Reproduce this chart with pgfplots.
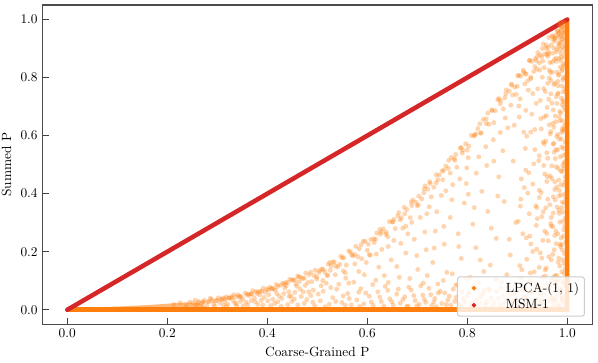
\documentclass[border=0pt]{standalone}
\usepackage{pgfplots}
\pgfplotsset{compat=1.18}
\definecolor{tabor}{RGB}{255,127,14}
\definecolor{tabred}{RGB}{214,39,40}
\begin{document}
\begin{tikzpicture}
\begin{axis}[
  name=ax,
  scale only axis, width=412.5pt, height=239.5pt,
  xmin=-0.05, xmax=1.05, ymin=-0.05, ymax=1.05,
  xtick={0,0.2,0.4,0.6,0.8,1.0}, ytick={0,0.2,0.4,0.6,0.8,1.0},
  tick align=inside, tick pos=left, major tick length=5pt,
  every tick/.style={black!75, line width=0.8pt},
  axis line style={black!70, line width=0.9pt},
  xticklabel style={/pgf/number format/.cd, fixed, fixed zerofill, precision=1},
  yticklabel style={/pgf/number format/.cd, fixed, fixed zerofill, precision=1},
  xlabel={Coarse-Grained P}, ylabel={Summed P},
  legend cell align=left,
  legend style={at={(1,0)}, anchor=south east, xshift=-5.5pt, yshift=5.7pt,
    draw=black!20, line width=0.75pt, rounded corners=2pt, fill=white,
    fill opacity=0.8, draw opacity=1, text opacity=1,
    inner xsep=2pt, inner ysep=2pt, font=\normalsize},
]
% scattered LPCA points
\addplot[only marks, color=tabor, mark=*, mark size=1.85pt, mark options={fill=tabor, draw opacity=0, fill opacity=0.33}, forget plot] coordinates {
(0.302,0.041) (0.311,0.041) (0.318,0.045) (0.327,0.0415) (0.333,0.052) (0.341,0.0515) (0.348,0.045) (0.356,0.058) (0.362,0.0546) (0.371,0.066) (0.378,0.0637) (0.385,0.052) (0.392,0.0745) (0.399,0.0708) (0.405,0.0778) (0.413,0.0732) (0.418,0.0873) (0.426,0.0849) (0.431,0.092) (0.438,0.0835) (0.445,0.1053) (0.452,0.103) (0.457,0.089) (0.463,0.1133) (0.471,0.107) (0.477,0.127) (0.484,0.121) (0.489,0.097) (0.496,0.1366) (0.503,0.129) (0.509,0.141) (0.515,0.1305) (0.522,0.157) (0.528,0.151) (0.534,0.165) (0.541,0.148) (0.547,0.185) (0.553,0.1795) (0.558,0.154) (0.566,0.1986) (0.571,0.186) (0.577,0.2187) (0.584,0.2106) (0.589,0.176) (0.596,0.236) (0.602,0.2257) (0.607,0.2425) (0.614,0.232) (0.619,0.2646) (0.626,0.2604) (0.632,0.2788) (0.637,0.2598) (0.644,0.304) (0.651,0.3025) (0.656,0.28) (0.661,0.3237) (0.668,0.3172) (0.674,0.353) (0.679,0.3454) (0.686,0.3176) (0.691,0.378) (0.697,0.3708) (0.703,0.3914) (0.709,0.382) (0.714,0.417) (0.721,0.4158) (0.726,0.435) (0.733,0.422) (0.738,0.465) (0.744,0.4646) (0.751,0.448) (0.757,0.4953) (0.762,0.487) (0.768,0.525) (0.774,0.521) (0.779,0.491) (0.786,0.557) (0.791,0.5496) (0.797,0.572) (0.803,0.5643) (0.808,0.6008) (0.815,0.6015) (0.821,0.6242) (0.826,0.6088) (0.832,0.6556) (0.838,0.6576) (0.843,0.639) (0.849,0.688) (0.856,0.686) (0.861,0.7233) (0.867,0.7208) (0.872,0.692) (0.878,0.7575) (0.884,0.7528) (0.889,0.7738) (0.895,0.767) (0.901,0.806) (0.907,0.8047) (0.912,0.8252) (0.918,0.8118) (0.924,0.858) (0.929,0.856) (0.935,0.838) (0.941,0.886) (0.946,0.878) (0.952,0.916) (0.958,0.9116) (0.963,0.8817) (0.969,0.9438) (0.975,0.937) (0.981,0.959) (0.986,0.9427)
(0.449,0.1024) (0.461,0.1167) (0.474,0.110) (0.487,0.1296) (0.499,0.113) (0.512,0.139) (0.525,0.163) (0.537,0.1505) (0.55,0.179) (0.563,0.2033) (0.575,0.1905) (0.588,0.2242) (0.6,0.205) (0.613,0.2445) (0.625,0.277) (0.638,0.2672) (0.65,0.303) (0.663,0.335) (0.675,0.3308) (0.688,0.371) (0.7,0.358) (0.713,0.4034) (0.725,0.4413) (0.738,0.4373) (0.75,0.478) (0.763,0.515) (0.775,0.515) (0.788,0.5594) (0.8,0.55) (0.813,0.5993) (0.825,0.6406) (0.838,0.6416) (0.85,0.6865) (0.863,0.7278) (0.875,0.7307) (0.888,0.7776) (0.9,0.77) (0.913,0.8193) (0.925,0.860) (0.938,0.858) (0.95,0.90) (0.963,0.9377) (0.975,0.935) (0.988,0.975)
(0.505,0.135) (0.519,0.119) (0.531,0.164) (0.545,0.157) (0.556,0.127) (0.569,0.19) (0.581,0.183) (0.592,0.236) (0.604,0.19) (0.617,0.243) (0.628,0.268) (0.641,0.252) (0.653,0.312) (0.666,0.31) (0.677,0.288) (0.689,0.359) (0.702,0.362) (0.716,0.427) (0.728,0.389) (0.741,0.448) (0.753,0.481) (0.766,0.471) (0.777,0.535) (0.79,0.54) (0.802,0.524) (0.817,0.606) (0.828,0.609) (0.841,0.678) (0.853,0.645) (0.866,0.71) (0.877,0.744) (0.891,0.74) (0.903,0.808) (0.916,0.814) (0.927,0.796) (0.94,0.872) (0.955,0.882)
(0.262,0.024) (0.272,0.026) (0.281,0.028) (0.291,0.031) (0.299,0.033) (0.307,0.035) (0.316,0.038) (0.323,0.040) (0.337,0.044) (0.345,0.047) (0.359,0.052) (0.367,0.055) (0.382,0.061) (0.389,0.064) (0.402,0.069) (0.409,0.074) (0.421,0.081) (0.434,0.088) (0.441,0.094) (0.455,0.103) (0.467,0.112)
(0.472,0.062) (0.508,0.083) (0.521,0.118) (0.539,0.071) (0.552,0.134) (0.563,0.092) (0.575,0.158) (0.583,0.061) (0.594,0.121) (0.606,0.188) (0.611,0.087) (0.623,0.147) (0.629,0.208) (0.641,0.067) (0.648,0.172) (0.653,0.239) (0.664,0.112) (0.671,0.281) (0.677,0.196) (0.683,0.078) (0.694,0.243) (0.701,0.139) (0.706,0.318) (0.712,0.092) (0.718,0.207) (0.724,0.355) (0.731,0.163) (0.736,0.271) (0.742,0.058) (0.748,0.394) (0.754,0.226) (0.759,0.129) (0.766,0.318) (0.771,0.431) (0.777,0.085) (0.782,0.262) (0.788,0.177) (0.794,0.368) (0.799,0.489) (0.806,0.112) (0.811,0.295) (0.817,0.214) (0.823,0.527) (0.829,0.408) (0.834,0.067) (0.841,0.339) (0.846,0.154) (0.852,0.586) (0.858,0.246) (0.863,0.458) (0.869,0.095) (0.874,0.373) (0.881,0.627) (0.886,0.189) (0.892,0.512) (0.897,0.301) (0.903,0.702) (0.909,0.138) (0.914,0.421) (0.919,0.598) (0.925,0.254) (0.931,0.745) (0.936,0.077) (0.939,0.352) (0.944,0.531) (0.949,0.178) (0.954,0.664) (0.959,0.442) (0.964,0.799) (0.968,0.289) (0.972,0.571) (0.976,0.118) (0.979,0.711) (0.983,0.392) (0.987,0.858) (0.989,0.224) (0.991,0.617) (0.993,0.487)
(0.552,0.048) (0.598,0.163) (0.634,0.118) (0.667,0.229) (0.689,0.301) (0.715,0.268) (0.739,0.338) (0.757,0.41) (0.785,0.451) (0.802,0.398) (0.818,0.471) (0.837,0.562) (0.853,0.512) (0.866,0.611) (0.876,0.661) (0.887,0.705) (0.898,0.742) (0.915,0.778) (0.927,0.801) (0.939,0.829) (0.951,0.857) (0.961,0.873) (0.973,0.902) (0.984,0.921)
(0.583,0.132) (0.618,0.192) (0.642,0.218) (0.659,0.149) (0.681,0.262) (0.699,0.187) (0.719,0.331) (0.734,0.213) (0.753,0.287) (0.769,0.379) (0.783,0.218) (0.798,0.435) (0.814,0.352) (0.826,0.172) (0.839,0.497) (0.848,0.281) (0.861,0.392) (0.871,0.548) (0.884,0.243) (0.894,0.636) (0.906,0.357) (0.917,0.687) (0.923,0.472) (0.935,0.621) (0.946,0.721) (0.957,0.581) (0.967,0.744) (0.977,0.648)
(0.962,0.031) (0.981,0.055) (0.947,0.074) (0.991,0.092) (0.973,0.113) (0.956,0.137) (0.985,0.151) (0.968,0.172) (0.994,0.194) (0.939,0.209) (0.978,0.228) (0.988,0.247) (0.959,0.263) (0.971,0.286) (0.992,0.305) (0.949,0.321) (0.983,0.343) (0.965,0.362) (0.976,0.379) (0.995,0.398) (0.944,0.412) (0.987,0.431) (0.969,0.452) (0.955,0.468) (0.982,0.487) (0.993,0.505) (0.961,0.522) (0.974,0.543) (0.989,0.561) (0.952,0.578) (0.979,0.597) (0.967,0.614) (0.994,0.633) (0.985,0.651) (0.958,0.669) (0.972,0.688) (0.99,0.707) (0.963,0.725) (0.981,0.743) (0.953,0.762) (0.975,0.781) (0.992,0.799) (0.966,0.818) (0.986,0.836) (0.97,0.853) (0.994,0.871) (0.978,0.889) (0.962,0.904) (0.988,0.921) (0.983,0.938) (0.995,0.957) (0.991,0.975)
(0.935,0.018) (0.976,0.043) (0.989,0.066) (0.958,0.085) (0.968,0.102) (0.994,0.125) (0.944,0.146) (0.982,0.164) (0.963,0.183) (0.986,0.218) (0.951,0.239) (0.975,0.256) (0.993,0.276) (0.967,0.297) (0.94,0.314) (0.984,0.332) (0.957,0.351) (0.99,0.371) (0.972,0.389) (0.948,0.404) (0.979,0.423) (0.995,0.441) (0.96,0.459) (0.987,0.478) (0.969,0.496) (0.943,0.514) (0.992,0.532) (0.977,0.552) (0.954,0.571) (0.984,0.588) (0.966,0.606) (0.99,0.624) (0.971,0.642) (0.947,0.659) (0.987,0.678) (0.96,0.697) (0.993,0.716) (0.978,0.734) (0.956,0.752) (0.989,0.771) (0.967,0.79) (0.982,0.808) (0.945,0.826) (0.992,0.845) (0.974,0.862) (0.959,0.879) (0.986,0.897) (0.995,0.913) (0.972,0.93) (0.989,0.948) (0.98,0.962) (0.993,0.983) (0.986,0.991)
(0.984,0.012) (0.991,0.028) (0.972,0.039) (0.995,0.051) (0.987,0.072) (0.966,0.081) (0.993,0.097) (0.979,0.118) (0.989,0.131) (0.958,0.144) (0.994,0.159) (0.983,0.178) (0.971,0.191) (0.99,0.207) (0.986,0.226) (0.962,0.238) (0.992,0.254) (0.977,0.271) (0.995,0.289) (0.985,0.302) (0.968,0.318) (0.991,0.337) (0.98,0.354) (0.994,0.368) (0.961,0.381) (0.988,0.396) (0.975,0.414) (0.993,0.429) (0.983,0.447) (0.966,0.461) (0.99,0.476) (0.978,0.493) (0.995,0.511) (0.986,0.527) (0.959,0.541) (0.992,0.556) (0.973,0.573) (0.988,0.589) (0.981,0.604) (0.994,0.621) (0.964,0.637) (0.99,0.652) (0.976,0.668) (0.985,0.683) (0.993,0.698) (0.969,0.712) (0.988,0.729) (0.982,0.747) (0.995,0.763) (0.973,0.776) (0.991,0.792) (0.984,0.811) (0.964,0.826) (0.993,0.84) (0.978,0.856) (0.988,0.872) (0.971,0.884) (0.994,0.899) (0.983,0.914) (0.99,0.931) (0.977,0.946) (0.995,0.962) (0.988,0.969) (0.993,0.943)
(0.996,0.015) (0.989,0.041) (0.997,0.083) (0.984,0.106) (0.996,0.141) (0.991,0.172) (0.997,0.233) (0.981,0.262) (0.996,0.316) (0.989,0.352) (0.997,0.383) (0.984,0.411) (0.996,0.458) (0.991,0.497) (0.997,0.536) (0.981,0.551) (0.996,0.578) (0.989,0.611) (0.997,0.642) (0.984,0.664) (0.996,0.689) (0.991,0.721) (0.997,0.752) (0.981,0.787) (0.996,0.803) (0.989,0.823) (0.997,0.851) (0.984,0.865) (0.996,0.886) (0.991,0.906) (0.997,0.927) (0.985,0.955) (0.996,0.973) (0.977,0.031) (0.974,0.207) (0.972,0.333) (0.976,0.521) (0.973,0.629) (0.979,0.819) (0.977,0.096) (0.975,0.441)
(0.915,0.021) (0.928,0.063) (0.943,0.037) (0.909,0.089) (0.951,0.112) (0.934,0.131) (0.919,0.174) (0.946,0.196) (0.927,0.227) (0.955,0.271) (0.911,0.262) (0.938,0.291) (0.952,0.338) (0.924,0.331) (0.907,0.381) (0.944,0.387) (0.931,0.433) (0.917,0.481) (0.953,0.497) (0.935,0.552) (0.913,0.612) (0.948,0.623) (0.929,0.674) (0.906,0.727) (0.941,0.761) (0.95,0.801) (0.921,0.789) (0.933,0.821)
(0.912,0.047) (0.925,0.098) (0.905,0.152) (0.931,0.201) (0.918,0.248) (0.902,0.305) (0.937,0.358) (0.921,0.402) (0.908,0.451) (0.933,0.503) (0.916,0.556) (0.927,0.612) (0.904,0.664) (0.938,0.711) (0.922,0.757)
(0.312,0.016) (0.335,0.024) (0.352,0.014) (0.368,0.031) (0.381,0.019) (0.394,0.043) (0.407,0.015) (0.421,0.028) (0.433,0.056) (0.441,0.018) (0.454,0.037) (0.466,0.071) (0.474,0.022) (0.487,0.049) (0.495,0.014) (0.506,0.031) (0.512,0.064) (0.524,0.019) (0.531,0.042) (0.543,0.088) (0.549,0.025) (0.561,0.056) (0.568,0.017) (0.579,0.034) (0.587,0.073) (0.593,0.021) (0.604,0.047) (0.612,0.015) (0.621,0.062) (0.628,0.029) (0.636,0.081) (0.645,0.038) (0.652,0.017) (0.659,0.054) (0.666,0.023) (0.675,0.045) (0.682,0.013) (0.688,0.068) (0.696,0.032) (0.704,0.019) (0.711,0.051) (0.717,0.026) (0.723,0.074) (0.729,0.015) (0.735,0.039) (0.741,0.089) (0.749,0.022) (0.755,0.058) (0.761,0.034) (0.767,0.016) (0.772,0.071) (0.778,0.043) (0.784,0.021) (0.789,0.062) (0.795,0.028) (0.801,0.049) (0.807,0.014) (0.813,0.082) (0.819,0.036) (0.825,0.023) (0.831,0.056) (0.836,0.018) (0.842,0.072) (0.848,0.041) (0.854,0.025) (0.859,0.063) (0.865,0.016) (0.871,0.047) (0.877,0.031) (0.882,0.079) (0.888,0.019) (0.894,0.055) (0.899,0.037) (0.906,0.022) (0.911,0.068) (0.917,0.044) (0.923,0.015) (0.928,0.059) (0.934,0.033) (0.942,0.076) (0.948,0.024) (0.953,0.052) (0.957,0.014) (0.965,0.064) (0.971,0.029) (0.977,0.083) (0.982,0.017) (0.988,0.046)
(0.415,0.022) (0.428,0.012) (0.447,0.047) (0.461,0.017) (0.479,0.035) (0.491,0.026) (0.502,0.054) (0.516,0.011) (0.527,0.077) (0.537,0.029) (0.556,0.016) (0.564,0.039) (0.573,0.095) (0.585,0.012) (0.597,0.058) (0.608,0.027) (0.617,0.102) (0.625,0.044) (0.633,0.013) (0.642,0.094) (0.649,0.028) (0.662,0.071) (0.671,0.035) (0.679,0.012) (0.685,0.108) (0.693,0.049) (0.699,0.014) (0.707,0.083) (0.714,0.036) (0.72,0.118) (0.727,0.052) (0.733,0.027) (0.738,0.011) (0.746,0.064) (0.752,0.101) (0.758,0.018) (0.764,0.047) (0.77,0.124) (0.775,0.029) (0.781,0.086) (0.787,0.012) (0.792,0.039) (0.798,0.107) (0.804,0.061) (0.81,0.027) (0.816,0.013) (0.822,0.094) (0.827,0.045) (0.833,0.132) (0.839,0.028) (0.845,0.067) (0.851,0.011) (0.857,0.103) (0.862,0.039) (0.868,0.076) (0.873,0.019) (0.879,0.121) (0.885,0.052) (0.891,0.031) (0.896,0.088) (0.902,0.013) (0.908,0.109) (0.914,0.072) (0.92,0.035) (0.926,0.127) (0.932,0.011) (0.938,0.093) (0.945,0.055) (0.95,0.028) (0.956,0.116) (0.961,0.071) (0.967,0.042) (0.973,0.013) (0.979,0.099) (0.985,0.068) (0.99,0.034)
(0.252,0.024) (0.258,0.016) (0.263,0.029) (0.268,0.021) (0.274,0.033) (0.279,0.014) (0.283,0.027) (0.288,0.036) (0.293,0.019) (0.297,0.031) (0.305,0.024) (0.309,0.036) (0.315,0.029) (0.321,0.019) (0.324,0.041) (0.331,0.033) (0.338,0.021) (0.344,0.045) (0.351,0.037) (0.358,0.026) (0.364,0.049) (0.374,0.041) (0.379,0.056) (0.388,0.033) (0.396,0.061) (0.403,0.052) (0.411,0.036) (0.416,0.068) (0.424,0.047) (0.435,0.075) (0.443,0.062) (0.449,0.029) (0.459,0.081) (0.468,0.046) (0.481,0.094) (0.492,0.068) (0.499,0.106) (0.518,0.092) (0.536,0.121) (0.557,0.109)
(0.213,0.018) (0.226,0.024) (0.238,0.015) (0.245,0.027) (0.256,0.033) (0.271,0.026) (0.286,0.04) (0.295,0.012) (0.318,0.012) (0.329,0.045) (0.339,0.012) (0.346,0.029) (0.361,0.017) (0.369,0.055) (0.376,0.028) (0.386,0.064) (0.391,0.017) (0.401,0.031) (0.409,0.072) (0.419,0.056) (0.429,0.039) (0.437,0.094) (0.444,0.046) (0.455,0.06) (0.464,0.097) (0.476,0.084) (0.483,0.062) (0.494,0.118) (0.511,0.101) (0.526,0.136)
(0.975,0.925) (0.982,0.951) (0.968,0.912) (0.988,0.962) (0.991,0.934) (0.979,0.897) (0.962,0.889) (0.985,0.979) (0.994,0.991) (0.971,0.941) (0.957,0.901) (0.949,0.872) (0.983,0.908) (0.993,0.955) (0.978,0.867) (0.965,0.852) (0.987,0.884) (0.954,0.834) (0.97,0.818) (0.99,0.829) (0.944,0.851) (0.936,0.865) (0.961,0.78) (0.981,0.772) (0.992,0.751)
};
% dense wedge near origin
\addplot[draw=none, fill=tabor, fill opacity=0.55, forget plot] coordinates {
(0.05,0.0085) (0.1,0.011) (0.166,0.017) (0.2,0.021) (0.24,0.026) (0.265,0.022) (0.28,0.008) (0.05,0.008)};
% dense band along the bottom
\addplot[draw=none, fill=tabor, forget plot] coordinates {
(0,-0.0085) (1.0,-0.0085) (1.0,0.009) (0,0.009)};
% dense band along x = 1
\addplot[draw=none, fill=tabor, forget plot] coordinates {
(0.995,-0.0085) (1.004,-0.0085) (1.004,0.998) (0.995,0.995)};
% MSM-1
\addplot[tabred, line width=3.4pt, line cap=round, forget plot] coordinates {(0,0) (1,1)};
\addlegendimage{legend image code/.code={\fill[tabor, fill opacity=1] (10pt,0) circle (1.3pt); \path (0,-3pt) (31.5pt,3pt);}}
\addlegendentry{LPCA-(1, 1)}
\addlegendimage{legend image code/.code={\fill[tabred, fill opacity=1] (10pt,0) circle (1.3pt); \path (0,-3pt) (31.5pt,3pt);}}
\addlegendentry{MSM-1}
\end{axis}
\path (ax.south west) ++(-31.7pt,-29pt) coordinate (bl);
\path (ax.north east) ++(4.3pt,3.75pt) coordinate (tr);
\pgfresetboundingbox
\useasboundingbox (bl) rectangle (tr);
\end{tikzpicture}
\end{document}
